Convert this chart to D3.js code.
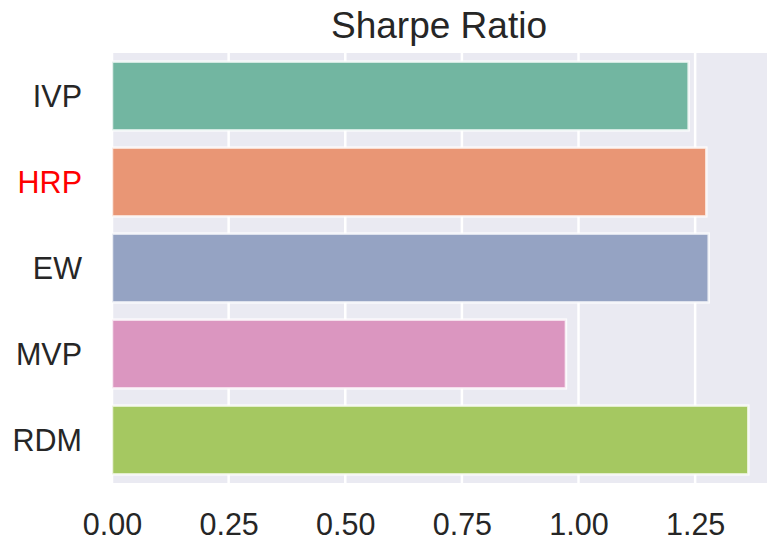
<!DOCTYPE html>
<html>
<head>
<meta charset="utf-8">
<script src="https://cdn.jsdelivr.net/npm/d3@7"></script>
<style>
  html, body { margin: 0; padding: 0; background: #fff; }
  svg text { font-family: "Liberation Sans", Arial, sans-serif; fill: #262626; }
</style>
</head>
<body>
<svg id="chart" width="767" height="544"></svg>
<script>
// Sharpe ratio by portfolio strategy
const strategies = ["IVP", "HRP", "EW", "MVP", "RDM"];
const sharpe = [1.236, 1.274, 1.279, 0.973, 1.364];
const barColors = ["#72B6A1", "#E99675", "#95A3C3", "#DB96C0", "#A5C861"];
const xTicks = [0, 0.25, 0.5, 0.75, 1.0, 1.25];
const xMax = 1.404;
const highlighted = "HRP";

const svg = d3.select("#chart");
const margin = { top: 53, right: 0, bottom: 61, left: 112 };
const W = 767, H = 544;
const innerW = W - margin.left - margin.right;
const innerH = H - margin.top - margin.bottom;

const g = svg.append("g").attr("transform", `translate(${margin.left},${margin.top})`);

const x = d3.scaleLinear().domain([0, xMax]).range([0, innerW]);
const y = d3.scaleBand().domain(strategies).range([0, innerH]).paddingInner(0.2).paddingOuter(0.1);

// plot background
g.append("rect").attr("width", innerW).attr("height", innerH).attr("fill", "#EAEAF2");

// vertical grid lines
g.append("g").selectAll("line").data(xTicks).join("line")
  .attr("x1", d => x(d)).attr("x2", d => x(d))
  .attr("y1", 0).attr("y2", innerH)
  .attr("stroke", "#fff").attr("stroke-width", 2.5);

// bars
g.append("g").selectAll("rect").data(strategies).join("rect")
  .attr("x", x(0))
  .attr("y", d => y(d))
  .attr("width", (d, i) => x(sharpe[i]) - x(0))
  .attr("height", y.bandwidth())
  .attr("fill", (d, i) => barColors[i])
  .attr("stroke", "#fff").attr("stroke-opacity", 0.8).attr("stroke-width", 2.5);

// x axis
const xAxis = g.append("g").attr("transform", `translate(0,${innerH})`)
  .call(d3.axisBottom(x).tickValues(xTicks).tickFormat(d3.format(".2f")).tickSize(0).tickPadding(0));
xAxis.select(".domain").remove();
xAxis.selectAll("text")
  .attr("dy", null).attr("y", 52)
  .style("font-size", "30.5px");

// y axis
const yAxis = g.append("g")
  .call(d3.axisLeft(y).tickSize(0).tickPadding(30));
yAxis.select(".domain").remove();
yAxis.selectAll("text")
  .attr("dy", "0.35em")
  .style("font-size", "30.5px")
  .style("fill", d => d === highlighted ? "#FF0000" : "#262626");

// title
svg.append("text")
  .attr("x", margin.left + innerW / 2 - 0.5).attr("y", 38)
  .attr("text-anchor", "middle")
  .style("font-size", "37px")
  .text("Sharpe Ratio");
</script>
</body>
</html>
